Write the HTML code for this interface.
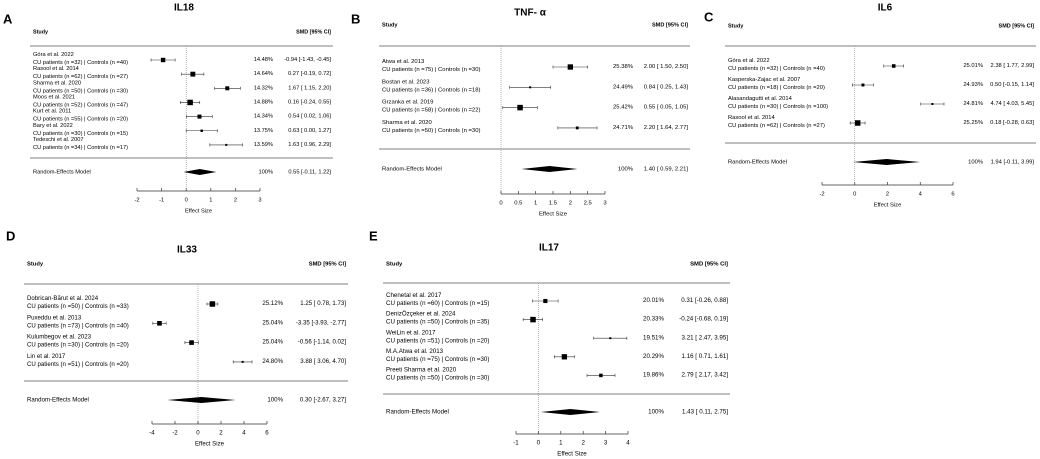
<!DOCTYPE html>
<html><head><meta charset="utf-8"><style>
html,body{margin:0;padding:0;background:#fff;}
svg{display:block;font-family:"Liberation Sans",sans-serif;}
</style></head><body>
<svg id="fig" width="1040" height="459" viewBox="0 0 1040 459"></svg>
<script>
// ---- Panel A: IL18 ----
const aStudies=["Góra et al. 2022","Rasool et al. 2014","Sharma et al. 2020","Moos et al. 2021","Kurt et al. 2011","Bary et al. 2022","Tedeschi et al. 2007"];
const aGroups=["CU patients (n =32) | Controls (n =40)","CU patients (n =62) | Controls (n =27)","CU patients (n =50) | Controls (n =30)","CU patients (n =52) | Controls (n =47)","CU patients (n =55) | Controls (n =20)","CU patients (n =30) | Controls (n =15)","CU patients (n =34) | Controls (n =17)"];
const aEst=[-0.94,0.27,1.67,0.16,0.54,0.63,1.63];
const aLo=[-1.43,-0.19,1.15,-0.24,0.02,0.00,0.96];
const aHi=[-0.45,0.72,2.20,0.55,1.06,1.27,2.29];
const aW=[14.48,14.64,14.32,14.88,14.34,13.75,13.59];
const aRE=[0.55,-0.11,1.22];
const aTicks=[-2,-1,0,1,2,3];
// ---- Panel B: TNF-a ----
const bStudies=["Atwa et al. 2013","Bostan et al. 2023","Grzanka et al. 2019","Sharma et al. 2020"];
const bGroups=["CU patients (n =75) | Controls (n =30)","CU patients (n =36) | Controls (n =18)","CU patients (n =58) | Controls (n =22)","CU patients (n =50) | Controls (n =30)"];
const bEst=[2.00,0.84,0.55,2.20];
const bLo=[1.50,0.25,0.05,1.64];
const bHi=[2.50,1.43,1.05,2.77];
const bW=[25.38,24.49,25.42,24.71];
const bRE=[1.40,0.59,2.21];
const bTicks=[0,0.5,1,1.5,2,2.5,3];
// ---- Panel C: IL6 ----
const cStudies=["Góra et al. 2022","Kasperska-Zajac et al. 2007","Alasandagutti et al. 2014","Rasool et al. 2014"];
const cGroups=["CU patients (n =32) | Controls (n =40)","CU patients (n =18) | Controls (n =20)","CU patients (n =30) | Controls (n =100)","CU patients (n =62) | Controls (n =27)"];
const cEst=[2.38,0.50,4.74,0.18];
const cLo=[1.77,-0.15,4.03,-0.28];
const cHi=[2.99,1.14,5.45,0.63];
const cW=[25.01,24.93,24.81,25.25];
const cRE=[1.94,-0.11,3.99];
const cTicks=[-2,0,2,4,6];
// ---- Panel D: IL33 ----
const dStudies=["Dobrican-Bărut et al. 2024","Puxeddu et al. 2013","Kulumbegov et al. 2023","Lin et al. 2017"];
const dGroups=["CU patients (n =50) | Controls (n =33)","CU patients (n =73) | Controls (n =40)","CU patients (n =30) | Controls (n =20)","CU patients (n =51) | Controls (n =20)"];
const dEst=[1.25,-3.35,-0.56,3.88];
const dLo=[0.78,-3.93,-1.14,3.06];
const dHi=[1.73,-2.77,0.02,4.70];
const dW=[25.12,25.04,25.04,24.80];
const dRE=[0.30,-2.67,3.27];
const dTicks=[-4,-2,0,2,4,6];
// ---- Panel E: IL17 ----
const eStudies=["Chenetal et al. 2017","DenizÖzçeker et al. 2024","WeiLin et al. 2017","M.A.Atwa et al. 2013","Preeti Sharma et al. 2020"];
const eGroups=["CU patients (n =60) | Controls (n =15)","CU patients (n =50) | Controls (n =35)","CU patients (n =51) | Controls (n =20)","CU patients (n =75) | Controls (n =30)","CU patients (n =50) | Controls (n =30)"];
const eEst=[0.31,-0.24,3.21,1.16,2.79];
const eLo=[-0.26,-0.68,2.47,0.71,2.17];
const eHi=[0.88,0.19,3.95,1.61,3.42];
const eW=[20.01,20.33,19.51,20.29,19.86];
const eRE=[1.43,0.11,2.75];
const eTicks=[-1,0,1,2,3,4];

const NS="http://www.w3.org/2000/svg";
const svg=document.getElementById('fig');
function mk(tag,attrs,parent,txt){const e=document.createElementNS(NS,tag);for(const k in attrs)e.setAttribute(k,attrs[k]);if(txt!==undefined)e.textContent=txt;(parent||svg).appendChild(e);return e;}
function f2(v){return v.toFixed(2);}

function panel(P){
  const g=mk('g',{});
  
  
  const sx=v=>P.px0+(v-P.v0)*(P.px1-P.px0)/(P.v1-P.v0);
  const fs=P.fs;
  let t=mk('text',{x:P.letterX,y:P.letterY,'font-size':13,'font-weight':'bold','dominant-baseline':'middle'},g,P.letter);
  
  t=mk('text',{x:P.titleX,y:P.titleY,'font-size':10,'font-weight':'bold','text-anchor':'middle','dominant-baseline':'middle'},g,P.title);
  
  t=mk('text',{x:P.left+3,y:P.headY,'font-size':fs*0.95,'font-weight':'bold','dominant-baseline':'middle'},g,'Study');
  
  t=mk('text',{x:P.right,y:P.headY,'font-size':fs*0.95,'font-weight':'bold','text-anchor':'end','dominant-baseline':'middle'},g,'SMD [95% CI]');
  
  let l=mk('line',{x1:P.left,x2:P.right+2,y1:P.rule1,y2:P.rule1,stroke:'#999','stroke-width':1.2},g);
  
  l=mk('line',{x1:P.left,x2:P.right+2,y1:P.rule2,y2:P.rule2,stroke:'#999','stroke-width':1.2},g);
  
  l=mk('line',{x1:sx(0),x2:sx(0),y1:P.rule1,y2:P.axisY,stroke:'#888','stroke-width':0.6,'stroke-dasharray':'1,1'},g);
  
  const wmin=Math.min(...P.w),wmax=Math.max(...P.w);
  P.est.forEach((e,i)=>{
    const y=P.row0+i*P.dy;
    let a=mk('text',{x:P.left+3,y:y-5.5,'font-size':fs,fill:'#000','dominant-baseline':'middle'},g,P.studies[i]);
    
    a=mk('text',{x:P.left+3,y:y+2.5,'font-size':fs,fill:'#000','dominant-baseline':'middle'},g,P.groups[i]);
    
    const ci_=mk('line',{x1:sx(P.lo[i]),x2:sx(P.hi[i]),y1:y,y2:y,stroke:'#333','stroke-width':0.6},g);
    
    [P.lo[i],P.hi[i]].forEach(v=>{const c=mk('line',{x1:sx(v),x2:sx(v),y1:y-1.5,y2:y+1.5,stroke:'#333','stroke-width':0.6},g);});
    const s=wmax>wmin?2+(P.w[i]-wmin)/(wmax-wmin)*3.5:4;
    const sq=mk('rect',{x:sx(e)-s/2,y:y-s/2,width:s,height:s,fill:'#000'},g);
    
    a=mk('text',{x:P.pctX,y:y-0.5,'font-size':fs,fill:'#000','text-anchor':'end','dominant-baseline':'middle'},g,f2(P.w[i])+'%');
    
    a=mk('text',{x:P.right,y:y-0.5,'font-size':fs,fill:'#000','text-anchor':'end','dominant-baseline':'middle'},g,f2(e)+' ['+(P.lo[i]<0?'':' ')+f2(P.lo[i])+', '+(P.hi[i]<0?'':' ')+f2(P.hi[i])+']');
    
  });
  const y=P.reY,[m,lo,hi]=P.re;
  let a=mk('text',{x:P.left+3,y:y,'font-size':fs,fill:'#000','dominant-baseline':'middle'},g,'Random-Effects Model');
  
  const d=mk('polygon',{points:`${sx(lo)},${y} ${sx(m)},${y-3} ${sx(hi)},${y} ${sx(m)},${y+3}`,fill:'#000'},g);
  
  a=mk('text',{x:P.pctX,y:y,'font-size':fs,fill:'#000','text-anchor':'end','dominant-baseline':'middle'},g,'100%');
  
  a=mk('text',{x:P.right,y:y,'font-size':fs,fill:'#000','text-anchor':'end','dominant-baseline':'middle'},g,f2(m)+' ['+(lo<0?'':' ')+f2(lo)+', '+(hi<0?'':' ')+f2(hi)+']');
  
  const t0=P.ticks[0],t1=P.ticks[P.ticks.length-1];
  l=mk('line',{x1:sx(t0),x2:sx(t1),y1:P.axisY,y2:P.axisY,stroke:'#333','stroke-width':0.7},g);
  
  P.ticks.forEach(v=>{
    const tk=mk('line',{x1:sx(v),x2:sx(v),y1:P.axisY-3,y2:P.axisY,stroke:'#333','stroke-width':0.7},g);
    
    const tl=mk('text',{x:sx(v),y:P.axisY+9,'font-size':fs,fill:'#000','text-anchor':'middle','dominant-baseline':'middle'},g,String(v));
    
  });
  a=mk('text',{x:(sx(t0)+sx(t1))/2,y:P.axisY+20,'font-size':fs,fill:'#000','text-anchor':'middle','dominant-baseline':'middle'},g,'Effect Size');
  
}

panel({key:'il18',letter:'A',letterX:3,letterY:20,title:'IL18',titleX:184,titleY:8,left:30,right:331,headY:32,rule1:46,rule2:158,
 row0:60,dy:14.15,reY:172,axisY:191,pctX:273,fs:5.7,px0:137,v0:-2,px1:260,v1:3,ticks:aTicks,
 studies:aStudies,groups:aGroups,est:aEst,lo:aLo,hi:aHi,w:aW,re:aRE});
panel({key:'tnf',letter:'B',letterX:351,letterY:20,title:'TNF- α',titleX:530,titleY:13,left:379,right:688,headY:25,rule1:46,rule2:149,
 row0:67,dy:20.3,reY:169,axisY:194,pctX:633,fs:5.9,px0:501,v0:0,px1:605,v1:3,ticks:bTicks,
 studies:bStudies,groups:bGroups,est:bEst,lo:bLo,hi:bHi,w:bW,re:bRE});
panel({key:'il6',letter:'C',letterX:704,letterY:18,title:'IL6',titleX:885,titleY:8,left:725,right:1034,headY:26,rule1:46,rule2:143,
 row0:66,dy:19,reY:162,axisY:185,pctX:983,fs:5.8,px0:822,v0:-2,px1:953,v1:6,ticks:cTicks,
 studies:cStudies,groups:cGroups,est:cEst,lo:cLo,hi:cHi,w:cW,re:cRE});
panel({key:'il33',letter:'D',letterX:6,letterY:237,title:'IL33',titleX:187,titleY:250,left:24,right:346,headY:264,rule1:284,rule2:381,
 row0:304,dy:19.3,reY:400,axisY:424,pctX:283,fs:6.1,px0:152,v0:-4,px1:267,v1:6,ticks:dTicks,
 studies:dStudies,groups:dGroups,est:dEst,lo:dLo,hi:dHi,w:dW,re:dRE});
panel({key:'il17',letter:'E',letterX:369,letterY:237,title:'IL17',titleX:549,titleY:248,left:383,right:728,headY:264,rule1:283,rule2:394,
 row0:301,dy:18.6,reY:412,axisY:434,pctX:664,fs:6.2,px0:516,v0:-1,px1:628,v1:4,ticks:eTicks,
 studies:eStudies,groups:eGroups,est:eEst,lo:eLo,hi:eHi,w:eW,re:eRE});
</script>
</body></html>
